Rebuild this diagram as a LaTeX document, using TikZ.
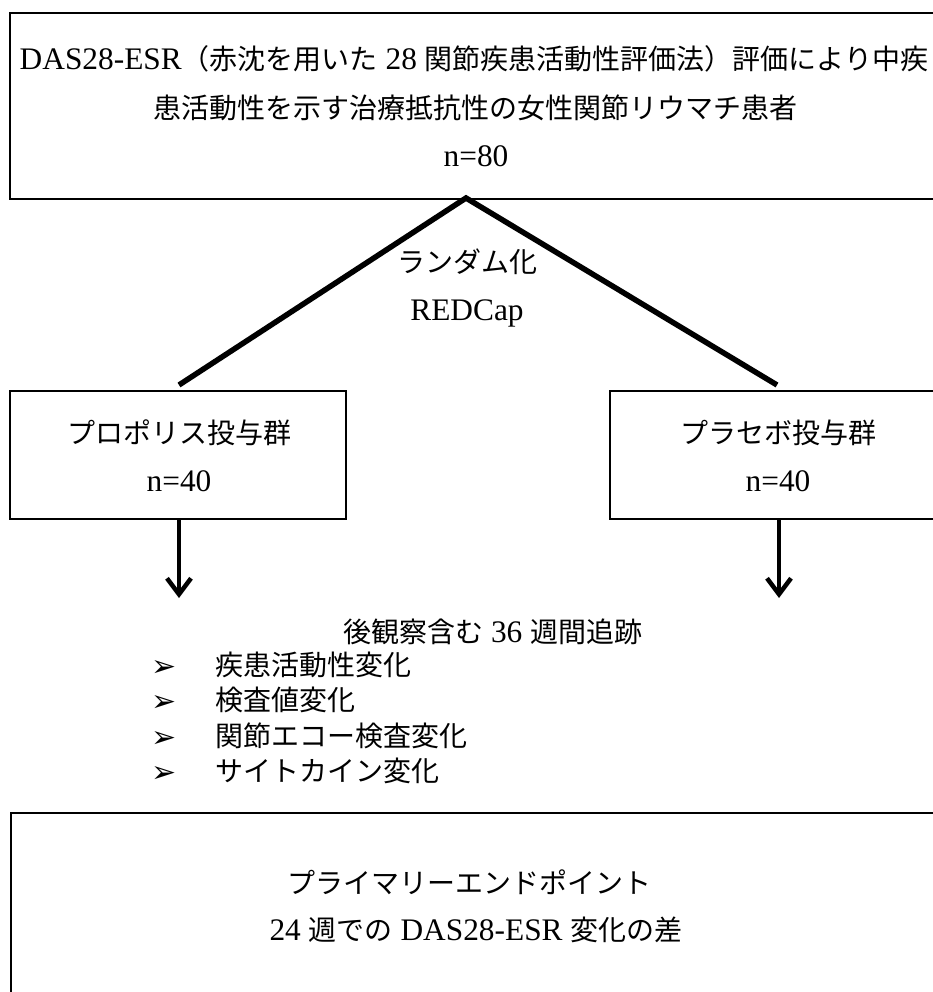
\documentclass[tikz,border=0pt]{standalone}
\usepackage{fontspec}
\setmainfont{Liberation Serif}[Scale=1.12]
\newfontfamily\jp{Noto Sans CJK JP}
\newfontfamily\dv{DejaVu Sans}
\usetikzlibrary{arrows.meta}
\begin{document}
\begin{tikzpicture}[x=1pt,y=-1pt,
  box/.style={draw, line width=1.6pt, inner sep=0pt, anchor=north west},
  txt/.style={inner sep=0pt, anchor=base, font=\fontsize{28}{34}\selectfont},
  btxt/.style={inner sep=0pt, anchor=base west, font=\fontsize{28}{34}\selectfont},
  bul/.style={inner sep=0pt, anchor=base west, font=\dv\fontsize{30}{34}\selectfont},
  diag/.style={line width=5.5pt, line join=miter},
  arr/.style={line width=4.5pt, -{Straight Barb[length=16pt,width=24pt]}}]
\clip (0,0) rectangle (933,992);
\fill[white] (0,0) rectangle (933,992);

% boxes
\node[box, minimum width=940pt, minimum height=186pt] (topbox) at (9,12) {};
\node[box, minimum width=336pt, minimum height=128pt] (lbox) at (9,390) {};
\node[box, minimum width=340pt, minimum height=128pt] (rbox) at (609,390) {};
\node[box, minimum width=940pt, minimum height=220pt] (botbox) at (10,812) {};

% top box text
\node[txt] (t1) at (474,70) {DAS28-ESR{\jp （赤沈を用いた} 28 {\jp 関節疾患活動性評価法）評価により中疾}};
\node[txt] (t2) at (475,119) {\jp 患活動性を示す治療抵抗性の女性関節リウマチ患者};
\node[txt] (t3) at (476,167) {n=80};

% randomisation
\coordinate (apex) at (466,198);
\coordinate (lend) at (179,385);
\coordinate (rend) at (777,385);
\draw[diag] (lend) -- (apex) -- (rend);
\node[txt] (r1) at (467,272) {\jp ランダム化};
\node[txt] (r2) at (467,320) {REDCap};

% group boxes text
\node[txt] (l1) at (179,443) {\jp プロポリス投与群};
\node[txt] (l2) at (179,491) {n=40};
\node[txt] (g1) at (778,443) {\jp プラセボ投与群};
\node[txt] (g2) at (778,491) {n=40};

% arrows
\coordinate (ltip) at (179,598);
\coordinate (rtip) at (779,598);
\draw[arr] (lbox.south -| ltip) -- (ltip);
\draw[arr] (rbox.south -| rtip) -- (rtip);

% follow-up
\node[btxt] (f0) at (343,642) {{\jp 後観察含む} 36 {\jp 週間追跡}};
\node[bul] (m1) at (151,676) {➢};
\node[bul] (m2) at (151,711) {➢};
\node[bul] (m3) at (151,747) {➢};
\node[bul] (m4) at (151,782) {➢};
\node[btxt] (f1) at (215,675) {\jp 疾患活動性変化};
\node[btxt] (f2) at (215,710) {\jp 検査値変化};
\node[btxt] (f3) at (215,746) {\jp 関節エコー検査変化};
\node[btxt] (f4) at (215,781) {\jp サイトカイン変化};

% primary endpoint
\node[txt] (p1) at (469,893) {\jp プライマリーエンドポイント};
\node[txt] (p2) at (476,940) {24 {\jp 週での} DAS28-ESR {\jp 変化の差}};
\end{tikzpicture}
\end{document}
